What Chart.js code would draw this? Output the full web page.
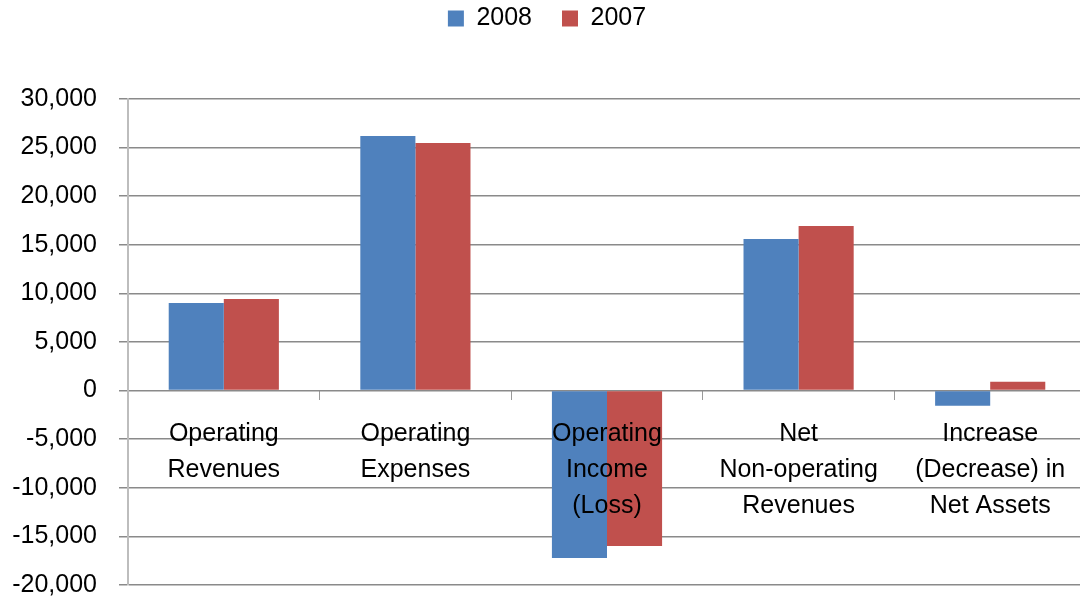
<!DOCTYPE html>
<html>
<head>
<meta charset="utf-8">
<title>Statement of Revenues, Expenses and Changes in Net Assets</title>
<script src="https://cdn.jsdelivr.net/npm/chart.js@4.4.1/dist/chart.umd.min.js"></script>
<style>
  html, body { margin: 0; padding: 0; background: #fff; overflow: hidden; }
  #wrap { width: 1086px; height: 598px; }
</style>
</head>
<body>
<div id="wrap"><canvas id="netAssetsChart"></canvas></div>
<script>
// categories (multi-line labels) and yearly values, in thousands
const categories = [
  ['Operating', 'Revenues'],
  ['Operating', 'Expenses'],
  ['Operating', 'Income', '(Loss)'],
  ['Net', 'Non-operating', 'Revenues'],
  ['Increase', '(Decrease) in', 'Net Assets']
];
const values2008 = [9010, 26190, -17220, 15600, -1550];
const values2007 = [9420, 25470, -15990, 16930, 920];
const yMin = -20000;
const yMax = 30000;
const yStep = 5000;

const FONT = "'Liberation Sans', Arial, sans-serif";

// keep the legend band a fixed height so the plot starts where it should
const legendHeight = {
  id: 'legendHeight',
  beforeInit(chart) {
    const fit = chart.legend.fit;
    chart.legend.fit = function () {
      fit.call(this);
      this.height = 123;
    };
  }
};

new Chart(document.getElementById('netAssetsChart'), {
  type: 'bar',
  data: {
    labels: categories,
    datasets: [
      { label: '2008', data: values2008, backgroundColor: '#4F81BD' },
      { label: '2007', data: values2007, backgroundColor: '#C0504D' }
    ]
  },
  options: {
    responsive: true,
    maintainAspectRatio: false,
    animation: false,
    // negative top pulls the legend row up; its band height makes up for it
    layout: { padding: { left: 8, right: 0, top: -24, bottom: 13 } },
    datasets: {
      bar: { barPercentage: 1, categoryPercentage: 0.575 }
    },
    plugins: {
      legend: {
        position: 'top',
        labels: {
          color: '#000',
          font: { family: FONT, size: 25 },
          boxWidth: 16,
          boxHeight: 16,
          padding: 30
        }
      },
      tooltip: { enabled: false }
    },
    scales: {
      x: {
        position: { y: 0 },
        grid: {
          drawOnChartArea: false,
          drawTicks: true,
          tickLength: 9,
          color: '#9a9a9a'
        },
        border: { display: false },
        ticks: {
          z: 1, // category names sit on top of the bars
          color: '#000',
          maxRotation: 0,
          autoSkip: false,
          padding: 16,
          font: { family: FONT, size: 25, lineHeight: 1.45 }
        }
      },
      y: {
        min: yMin,
        max: yMax,
        afterFit(scale) {
          scale.width = 120;
          scale.paddingTop = 0;
          scale.paddingBottom = 0;
        },
        grid: {
          color: '#8a8a8a',
          lineWidth: 1.5,
          tickLength: 9
        },
        border: { color: '#bdbdbd', width: 2 },
        ticks: {
          stepSize: yStep,
          color: '#000',
          padding: 22,
          font: { family: FONT, size: 25 },
          callback: v => v.toLocaleString('en-US')
        }
      }
    }
  },
  plugins: [legendHeight]
});
</script>
</body>
</html>
